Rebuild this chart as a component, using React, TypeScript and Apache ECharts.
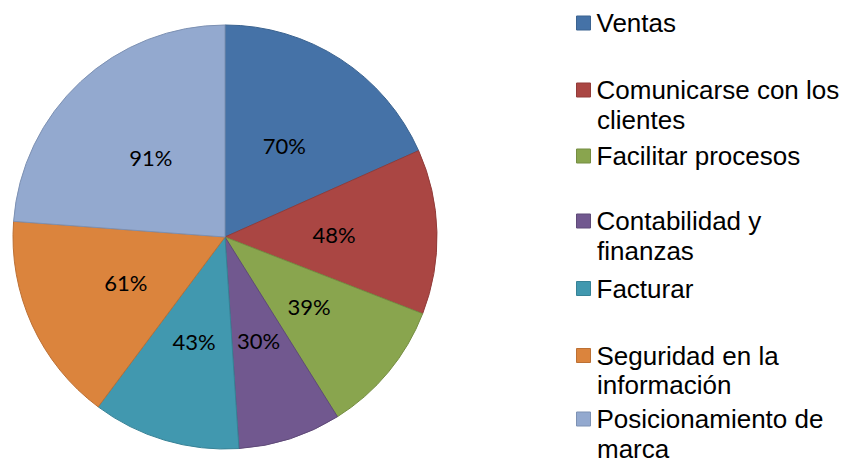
import React, { useEffect, useRef } from "react";
import * as echarts from "echarts";

const categories = [
  "Ventas",
  "Comunicarse con los clientes",
  "Facilitar procesos",
  "Contabilidad y finanzas",
  "Facturar",
  "Seguridad en la información",
  "Posicionamiento de marca",
];
const values = [70, 48, 39, 30, 43, 61, 91];
const legendFirstLines = [
  "Ventas",
  "Comunicarse con los",
  "Facilitar procesos",
  "Contabilidad y",
  "Facturar",
  "Seguridad en la",
  "Posicionamiento de",
];
const legendSecondLines = ["", "clientes", "", "finanzas", "", "información", "marca"];
const colors = ["#4572A7", "#AA4643", "#89A54E", "#71588F", "#4198AF", "#DB843D", "#93A9CF"];
const borderColors = ["#3B6390", "#923B39", "#758D42", "#5F4A78", "#378296", "#BC7034", "#7D91B3"];
const legendCapCenters = [23, 90, 156, 221, 288.5, 355.5, 419];

const LEGEND_FONT = "'Liberation Sans', Arial, sans-serif";

export default function App() {
  const ref = useRef<HTMLDivElement>(null);
  useEffect(() => {
    if (!ref.current) return;
    const chart = echarts.init(ref.current, undefined, { renderer: "svg" });
    const legends = categories.map((name, i) => ({
      data: [name],
      orient: "vertical" as const,
      left: 576,
      top: legendCapCenters[i] - 13,
      padding: 0,
      itemWidth: 14,
      itemHeight: 14,
      itemGap: 0,
      icon: "rect",
      selectedMode: false,
      formatter: () => legendFirstLines[i],
      textStyle: {
        fontFamily: LEGEND_FONT,
        fontSize: 26,
        color: "#000",
        padding: [0, 0, 5, 1],
      },
      itemStyle: { borderColor: borderColors[i], borderWidth: 1 },
    }));
    const graphics = legendSecondLines
      .map((t, i) =>
        t
          ? {
              type: "text",
              x: 597,
              y: legendCapCenters[i] + 29.5,
              style: {
                text: t,
                font: "26px " + LEGEND_FONT,
                fill: "#000",
                verticalAlign: "middle",
              },
            }
          : null
      )
      .filter(Boolean);
    chart.setOption({
      animation: false,
      color: colors,
      legend: legends,
      graphic: graphics,
      series: [
        {
          type: "pie",
          center: [225, 237],
          radius: 212,
          startAngle: 90,
          clockwise: true,
          avoidLabelOverlap: false,
          data: categories.map((name, i) => ({
            name,
            value: values[i],
            itemStyle: { color: colors[i], borderColor: borderColors[i], borderWidth: 1 },
          })),
          label: {
            show: true,
            position: "inner",
            formatter: "{c}%",
            color: "#000",
            fontSize: 22,
            fontFamily: "Lato, 'Open Sans', sans-serif",
          },
          labelLine: { show: false },
          emphasis: { disabled: true },
        },
      ],
    });
    return () => chart.dispose();
  }, []);
  return (
    <div
      ref={ref}
      style={{ position: "absolute", left: 0, top: 0, width: 846, height: 462, background: "#fff" }}
    />
  );
}
